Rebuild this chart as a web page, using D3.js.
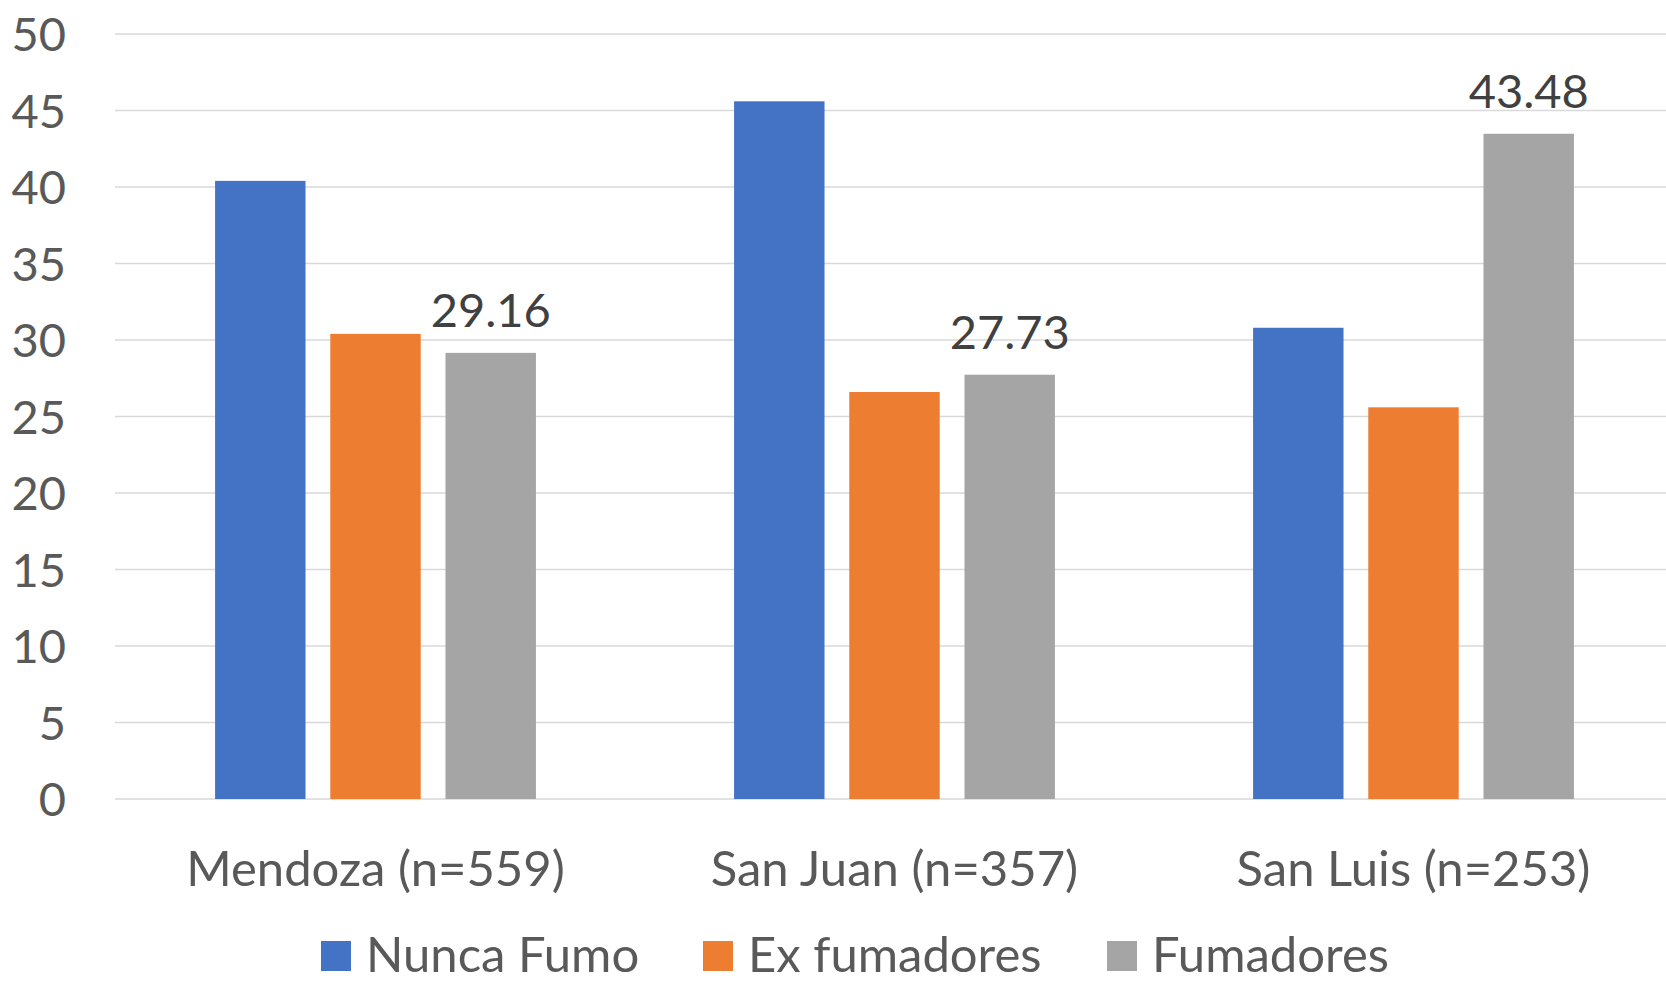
<!DOCTYPE html>
<html>
<head>
  <meta charset="utf-8">
  <title>Fumadores por provincia</title>
  <script src="https://cdn.jsdelivr.net/npm/d3@7"></script>
  <style>
    body { margin: 0; background: #fff; }
    text { font-family: Lato, "Open Sans", sans-serif; }
  </style>
</head>
<body>
  <svg width="1666" height="988" id="chart"></svg>

  <script>
    // data
    var categories = ["Mendoza (n=559)", "San Juan (n=357)", "San Luis (n=253)"];
    var seriesNames = ["Nunca Fumo", "Ex fumadores", "Fumadores"];
    var nuncaFumo = [40.4, 45.6, 30.8];
    var exFumadores = [30.4, 26.6, 25.6];
    var fumadores = [29.16, 27.73, 43.48];
    var yTicks = [0, 5, 10, 15, 20, 25, 30, 35, 40, 45, 50];

    var colors = ["#4472C4", "#ED7D31", "#A5A5A5"];
    var values = [nuncaFumo, exFumadores, fumadores];

    var svg = d3.select("#chart");
    var margin = {top: 34, right: 0, bottom: 189, left: 115};
    var width = 1666, height = 988;

    var y = d3.scaleLinear()
              .domain([0, 50])
              .range([height - margin.bottom, margin.top]);

    // category bands (a touch wider than the gridlines, like the original)
    var x0 = d3.scaleBand()
               .domain(categories)
               .range([margin.left + 1, width + 7])
               .padding(0);

    var x1 = d3.scaleBand()
               .domain(seriesNames)
               .range([0, x0.bandwidth()])
               .paddingInner(0.215)
               .paddingOuter(0.86);

    // gridlines
    svg.append("g")
        .selectAll("line")
        .data(yTicks)
      .enter().append("line")
        .attr("x1", margin.left)
        .attr("x2", width - margin.right)
        .attr("y1", function(d) { return y(d); })
        .attr("y2", function(d) { return y(d); })
        .attr("stroke", "#d9d9d9")
        .attr("stroke-width", 1.5);

    // y axis labels
    var yAxis = svg.append("g")
        .attr("transform", "translate(" + (margin.left - 49) + ",0)")
        .call(d3.axisLeft(y).tickValues(yTicks).tickSize(0).tickPadding(0));
    yAxis.select(".domain").remove();
    yAxis.selectAll("text")
        .attr("font-family", "Lato, sans-serif")
        .attr("font-size", "47px")
        .attr("fill", "#595959")
        .attr("dy", "0.36em");

    // bars
    var groups = svg.append("g")
        .selectAll("g")
        .data(categories)
      .enter().append("g")
        .attr("transform", function(d) { return "translate(" + x0(d) + ",0)"; });

    groups.selectAll("rect")
        .data(function(d, i) {
          return seriesNames.map(function(s, j) { return {s: s, v: values[j][i], c: colors[j]}; });
        })
      .enter().append("rect")
        .attr("x", function(d) { return x1(d.s); })
        .attr("width", x1.bandwidth())
        .attr("y", function(d) { return y(d.v); })
        .attr("height", function(d) { return y(0) - y(d.v); })
        .attr("fill", function(d) { return d.c; });

    // data labels on Fumadores only
    groups.append("text")
        .attr("x", function(d) { return x1("Fumadores") + x1.bandwidth() / 2; })
        .attr("y", function(d, i) { return y(fumadores[i]) - 26; })
        .attr("text-anchor", "middle")
        .attr("font-size", "47px")
        .attr("fill", "#404040")
        .text(function(d, i) { return fumadores[i].toFixed(2); });

    // x axis labels
    var xAxis = svg.append("g")
        .attr("transform", "translate(0," + y(0) + ")")
        .call(d3.axisBottom(x0).tickSize(0).tickPadding(0));
    xAxis.select(".domain").remove();
    xAxis.selectAll("text")
        .attr("font-family", "Lato, sans-serif")
        .attr("font-size", "49px")
        .attr("fill", "#595959")
        .attr("dy", null)
        .attr("y", 87);

    // legend
    var legendX = [321, 703, 1107];
    var legend = svg.append("g")
        .selectAll("g")
        .data(seriesNames)
      .enter().append("g")
        .attr("transform", function(d, i) { return "translate(" + legendX[i] + ",941)"; });
    legend.append("rect")
        .attr("width", 30)
        .attr("height", 30)
        .attr("fill", function(d, i) { return colors[i]; });
    legend.append("text")
        .attr("x", 45)
        .attr("y", 31)
        .attr("font-size", "49px")
        .attr("fill", "#595959")
        .text(function(d) { return d; });
  </script>
</body>
</html>
